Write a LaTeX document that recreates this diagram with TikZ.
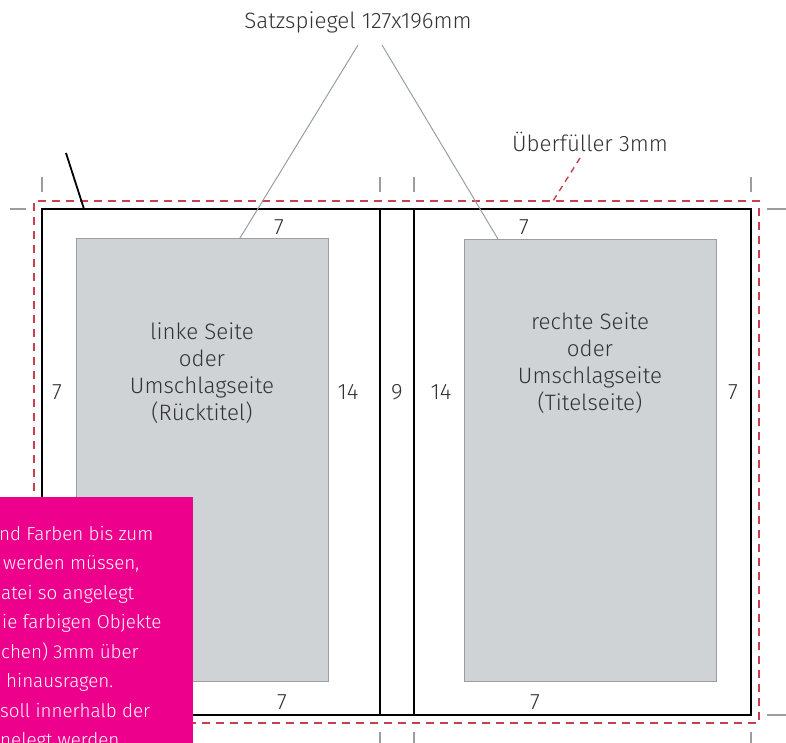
\documentclass[tikz,border=0pt]{standalone}
\usepackage{fontspec}
\setmainfont{Fira Sans Light}
\definecolor{textgrau}{HTML}{333333}
\definecolor{blockgrau}{HTML}{D0D3D6}
\definecolor{randgrau}{HTML}{9A9EA2}
\definecolor{bleedrot}{HTML}{C8404F}
\definecolor{magenta}{HTML}{EC008C}
\tikzset{
  lbl/.style={font=\fontsize{22.3}{27}\selectfont,text=textgrau,inner sep=0pt},
  hinweis/.style={font=\fontsize{18.8}{29}\selectfont,text=white,inner sep=0pt,anchor=base west},
  page/.style={draw=black,line width=1.8pt,inner sep=0pt},
  block/.style={draw=randgrau,fill=blockgrau,line width=1pt,inner sep=0pt},
  bleed/.style={draw=bleedrot,line width=1.4pt,dash pattern=on 8pt off 6pt,inner sep=0pt},
  crop/.style={draw=randgrau,line width=1.5pt},
}
\begin{document}
\begin{tikzpicture}[x=1pt,y=-1pt]
      \useasboundingbox (0,0) rectangle (786,742);

      %%%%%%%%%%%%%%%%%%%%%%%%%%%%%%%%%%%%%%%%%%%%%%%%%%%%%%%%%%%%%%%%%%%%%%%%%%%
      %%%%  Schnittmarken
      \foreach \x in {42,380,414,751}
       {\draw[crop] (\x,177) -- (\x,192);
        \draw[crop] (\x,732) -- (\x,750);};
      \foreach \y in {209,715}
       {\draw[crop] (10,\y) -- (26,\y);
        \draw[crop] (767,\y) -- (786,\y);};

      %%%%%%%%%%%%%%%%%%%%%%%%%%%%%%%%%%%%%%%%%%%%%%%%%%%%%%%%%%%%%%%%%%%%%%%%%%%
      %%%%  Beschnitt und Seiten
      \node[bleed,minimum width=725pt,minimum height=522pt] (bleed) at (396.5,462) {};
      \node[page,minimum width=338pt,minimum height=506pt] (links) at (211,462) {};
      \node[page,minimum width=34pt,minimum height=506pt] (ruecken) at (397,462) {};
      \node[page,minimum width=337pt,minimum height=506pt] (rechts) at (582.5,462) {};

      \node[block,minimum width=252pt,minimum height=443pt] (linksblock) at (202,459.5) {};
      \node[block,minimum width=252pt,minimum height=442pt] (rechtsblock) at (590,460) {};

      \node[lbl,align=center] (linkstext) at (202,373) {linke Seite\\oder\\Umschlagseite\\(Rücktitel)};
      \node[lbl,align=center] (rechtstext) at (590,363) {rechte Seite\\oder\\Umschlagseite\\(Titelseite)};

      %%%%%%%%%%%%%%%%%%%%%%%%%%%%%%%%%%%%%%%%%%%%%%%%%%%%%%%%%%%%%%%%%%%%%%%%%%%
      %%%%  Masse
      \node[lbl] (obenl) at (279,227) {7};
      \node[lbl] (obenr) at (524,227) {7};
      \node[lbl] (untenl) at (282,702) {7};
      \node[lbl] (untenr) at (535,702) {7};
      \node[lbl] (aussenl) at (57,392) {7};
      \node[lbl] (innenl) at (348,392) {14};
      \node[lbl] (mitte) at (397,392) {9};
      \node[lbl] (innenr) at (441,392) {14};
      \node[lbl] (aussenr) at (733,392) {7};

      %%%%%%%%%%%%%%%%%%%%%%%%%%%%%%%%%%%%%%%%%%%%%%%%%%%%%%%%%%%%%%%%%%%%%%%%%%%
      %%%%  Beschriftungen
      \node[lbl] (satz) at (358,22) {Satzspiegel 127x196mm};
      \coordinate (satzl) at (358,45);
      \coordinate (satzr) at (382,45);
      \coordinate (blockl) at (240,238);
      \coordinate (blockr) at (498,239);
      \draw[randgrau,line width=1pt] (satzl) -- (blockl);
      \draw[randgrau,line width=1pt] (satzr) -- (blockr);

      \node[lbl] (ueber) at (590,142) {Überfüller 3mm};
      \coordinate (ueberfuss) at (580,158);
      \coordinate (bleedpunkt) at (553,201);
      \draw[bleedrot,line width=1.4pt,dash pattern=on 6pt off 5pt] (ueberfuss) -- (bleedpunkt);

      \coordinate (zeiger) at (66,153);
      \coordinate (ecke) at (84,209);
      \draw[black,line width=1.8pt] (zeiger) -- (ecke);

      %%%%%%%%%%%%%%%%%%%%%%%%%%%%%%%%%%%%%%%%%%%%%%%%%%%%%%%%%%%%%%%%%%%%%%%%%%%
      %%%%  Hinweis
      \fill[magenta] (-5,497) rectangle (193,750);
      \foreach \x/\y/\zeile in {-1/540/{nd Farben bis zum},3/569.5/{werden müssen,},
        1/599/{atei so angelegt},2/628.5/{ie farbigen Objekte},1/658/{chen) 3mm über},
        6/687.5/{hinausragen.},0/717/{soll innerhalb der},0/746.5/{nelegt werden}}
       {\node[hinweis] at (\x,\y) {\zeile};};
\end{tikzpicture}
\end{document}
